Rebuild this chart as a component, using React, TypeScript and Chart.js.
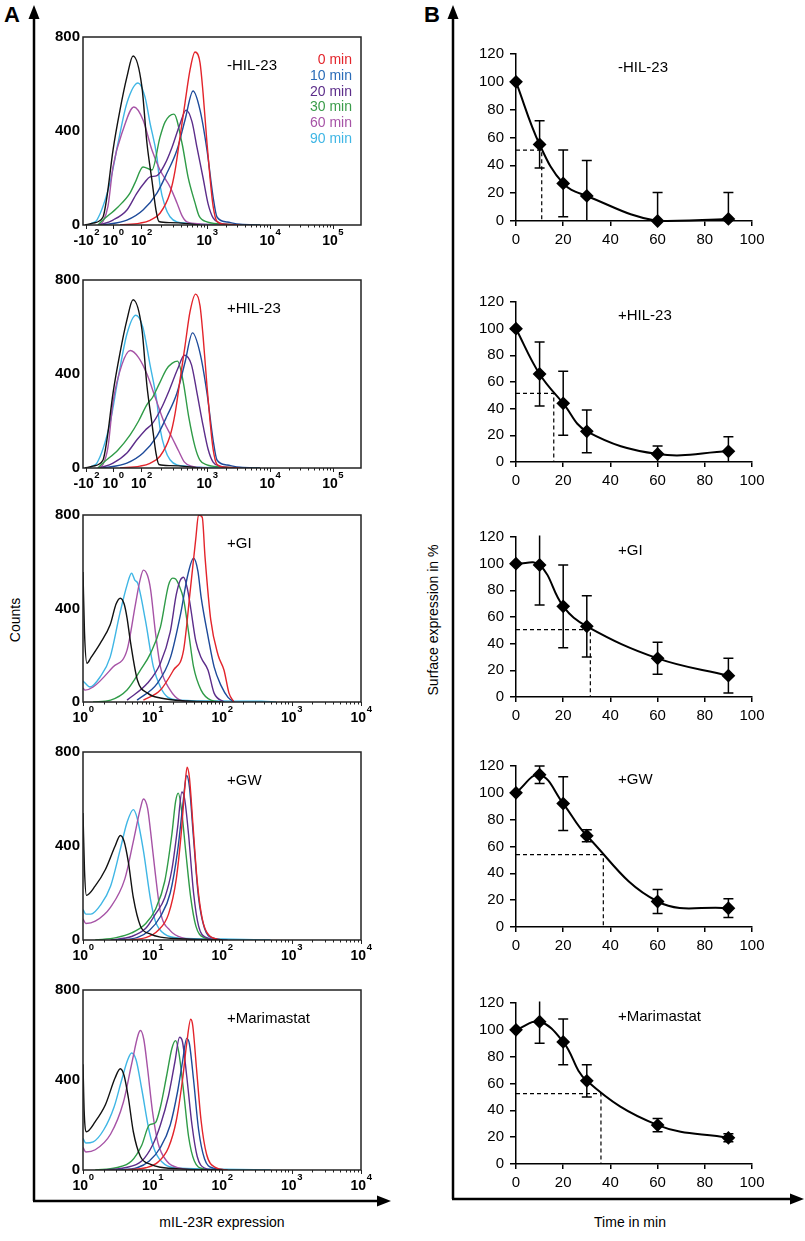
import React, { useEffect, useRef } from "react";
import { Chart, registerables } from "chart.js";

Chart.register(...registerables);

type Pt = [number, number];

const FONT = '"Liberation Sans", Arial, Helvetica, sans-serif';

// ---------------- A: flow cytometry histograms ----------------
// x-axis ticks (display channel for biexponential panels, fluorescence for log panels)
const BIEXP_TICK_POS = [12, 108, 210, 446, 672, 898];
const BIEXP_TICK_BASE = ["-10", "10", "10", "10", "10", "10"];
const BIEXP_TICK_EXP = ["2", "0", "2", "3", "4", "5"];
const LOG_TICK_POS = [1, 10, 100, 1000, 10000];
const LOG_TICK_BASE = ["10", "10", "10", "10", "10"];
const LOG_TICK_EXP = ["0", "1", "2", "3", "4"];
const COUNT_MAX = 800;
const COUNT_STEP = 400;

const TIME_LABELS = ["0 min", "10 min", "20 min", "30 min", "60 min", "90 min"];
const TIME_LABEL_COLORS = ["#e3242b", "#2a6cb8", "#5c2d8a", "#3a9c4a", "#a653a6", "#3fb6e5"];
const CURVE_COLORS = ["#e3242b", "#1d4a9a", "#5c2d8a", "#2f9b47", "#a653a6", "#3fb6e5"];
const CONTROL_COLOR = "#111111";

// -HIL-23 (channel, counts)
const NEG_CTRL: Pt[] = [[7,0],[36,8],[72,34],[86,119],[108,319],[133,489],[158,630],[180,719],[212,587],[230,349],[248,190],[263,60],[273,15],[313,10],[385,5],[421,0]];
const NEG_0: Pt[] = [[133,0],[205,8],[241,20],[277,50],[313,136],[331,230],[349,375],[367,520],[385,660],[403,736],[421,690],[432,560],[446,349],[457,200],[468,80],[482,15],[511,3],[565,0]];
const NEG_10: Pt[] = [[72,0],[158,21],[216,64],[266,136],[302,221],[338,319],[367,447],[396,570],[421,489],[446,319],[468,119],[482,34],[518,13],[565,3],[637,0]];
const NEG_20: Pt[] = [[61,0],[108,21],[158,64],[194,136],[223,183],[241,205],[266,210],[295,260],[320,330],[349,430],[371,489],[392,440],[410,330],[432,200],[450,90],[468,30],[493,8],[547,0]];
const NEG_30: Pt[] = [[54,0],[72,21],[126,77],[169,136],[187,179],[216,247],[248,234],[277,374],[295,438],[327,472],[356,349],[378,204],[403,94],[417,40],[446,13],[493,5],[637,0]];
const NEG_60: Pt[] = [[54,0],[72,15],[90,80],[108,247],[144,404],[183,502],[216,447],[248,319],[277,234],[313,162],[338,94],[356,40],[374,13],[421,5],[529,0]];
const NEG_90: Pt[] = [[25,0],[32,8],[50,21],[97,179],[126,349],[158,519],[198,604],[223,545],[241,434],[266,289],[277,170],[295,80],[313,35],[338,13],[374,8],[421,3],[529,0]];

// +HIL-23
const POS_CTRL: Pt[] = [[7,0],[36,8],[72,34],[86,119],[108,319],[133,489],[158,630],[180,716],[212,590],[230,350],[248,190],[263,60],[273,15],[313,10],[385,5],[421,0]];
const POS_0: Pt[] = [[133,0],[205,8],[241,20],[277,50],[313,136],[331,230],[349,375],[367,520],[385,665],[405,740],[421,690],[432,560],[446,349],[457,200],[468,80],[482,15],[511,3],[565,0]];
const POS_10: Pt[] = [[72,0],[158,21],[216,64],[266,136],[302,221],[338,319],[367,450],[394,575],[421,489],[446,319],[468,119],[482,34],[518,13],[565,3],[637,0]];
const POS_20: Pt[] = [[61,0],[108,21],[158,64],[194,120],[223,160],[250,190],[280,250],[310,330],[340,420],[365,480],[390,440],[410,320],[432,180],[450,80],[468,25],[493,8],[547,0]];
const POS_30: Pt[] = [[54,0],[72,21],[126,77],[169,140],[200,200],[230,270],[250,300],[275,360],[300,420],[320,445],[340,455],[360,370],[380,220],[403,90],[420,35],[446,13],[493,5],[637,0]];
const POS_60: Pt[] = [[54,0],[72,15],[90,90],[108,280],[140,440],[170,500],[200,470],[230,400],[260,300],[290,200],[320,130],[345,70],[365,25],[390,8],[450,0]];
const POS_90: Pt[] = [[25,0],[32,8],[50,21],[97,190],[126,380],[158,570],[190,650],[215,600],[241,440],[266,280],[277,170],[295,80],[313,35],[338,13],[374,8],[421,3],[529,0]];

// +GI (fluorescence, counts)
const GI_CTRL: Pt[] = [[1,556],[1.05,300],[1.14,166],[1.3,190],[1.76,250],[2.46,330],[3,420],[3.44,444],[3.9,420],[4.3,360],[4.8,260],[6.06,94],[8.5,38],[13,17],[32,4],[97,0]];
const GI_0: Pt[] = [[7.4,8],[13,51],[20,136],[28,222],[35,480],[42,700],[46,800],[52,790],[57,620],[69,350],[88,200],[107,136],[126,38],[149,0]];
const GI_10: Pt[] = [[6,8],[11.8,81],[18.2,192],[25.5,380],[32,540],[39,615],[45,560],[50,450],[63,280],[77,150],[97,70],[122,20],[150,0]];
const GI_20: Pt[] = [[4.3,8],[8.5,81],[13,166],[18,300],[22,460],[25,520],[28,534],[32,480],[35.5,400],[42,260],[50,190],[63,136],[77,38],[107,0]];
const GI_30: Pt[] = [[1.4,0],[2.5,8],[4.3,51],[6.7,136],[9.4,209],[13,320],[17,500],[19.5,530],[21.5,526],[24,500],[28,440],[33,300],[39,150],[50,51],[69,8],[100,0]];
const GI_60: Pt[] = [[1,60],[1.07,51],[1.4,64],[2.7,150],[4.3,222],[5.7,420],[6.6,520],[7.4,564],[8.5,540],[9.4,480],[11,300],[13,150],[18,51],[25,8],[36,0]];
const GI_90: Pt[] = [[1,90],[1.07,81],[1.26,64],[1.76,107],[2.46,192],[3.4,380],[4.3,500],[5,551],[5.6,520],[6.1,509],[7.9,350],[10.3,150],[13,64],[16.5,21],[25,8],[100,4],[370,3],[600,0]];

// +GW
const GW_CTRL: Pt[] = [[1,540],[1.05,300],[1.12,190],[1.5,230],[2.1,300],[2.9,400],[3.44,445],[3.9,420],[4.5,330],[5.3,180],[6.7,60],[9.4,25],[13,12],[30,4],[100,0]];
const GW_0: Pt[] = [[4,0],[8,10],[12,40],[17,110],[22,260],[26,460],[29,640],[31.5,735],[34,690],[38,500],[44,250],[52,90],[65,20],[100,0]];
const GW_10: Pt[] = [[3,0],[6,10],[9,40],[13,100],[18,200],[23,380],[27,560],[31,700],[34,650],[39,430],[46,180],[56,50],[75,8],[120,0]];
const GW_20: Pt[] = [[2.5,0],[5,15],[8,50],[11,110],[15,180],[19,300],[23,480],[26.5,630],[29,600],[33,450],[39,200],[46,60],[60,10],[90,0]];
const GW_30: Pt[] = [[1.5,0],[3,10],[5,30],[8,70],[11,130],[15,250],[19,450],[21.5,590],[23.5,625],[26,560],[30,380],[35.5,180],[42,60],[55,10],[80,0]];
const GW_60: Pt[] = [[1,90],[1.1,70],[1.5,80],[2.5,140],[4,260],[5.3,420],[6.7,560],[7.4,600],[8.5,560],[9.4,460],[11,280],[13,120],[18,40],[28,8],[50,0]];
const GW_90: Pt[] = [[1,130],[1.1,110],[1.3,110],[1.8,150],[2.5,230],[3.4,380],[4.3,500],[5.3,555],[6,520],[7.4,380],[9.4,170],[11,80],[15,25],[25,8],[100,4],[500,0]];

// +Marimastat
const MAR_CTRL: Pt[] = [[1,470],[1.04,260],[1.12,170],[1.5,215],[2.1,290],[2.9,410],[3.44,450],[3.9,420],[4.5,320],[5.3,170],[6.7,60],[9.4,25],[13,12],[30,4],[100,0]];
const MAR_0: Pt[] = [[4,0],[8,10],[12,35],[17,100],[22,220],[27,400],[31,560],[35.5,670],[38,640],[43,450],[50,220],[60,70],[80,12],[120,0]];
const MAR_10: Pt[] = [[3,0],[6,10],[9,40],[13,100],[18,200],[23,350],[27,480],[31,585],[34,560],[39,400],[46,180],[56,50],[75,8],[120,0]];
const MAR_20: Pt[] = [[2,0],[4,10],[7,40],[10,110],[13,200],[17,330],[21,480],[24.5,590],[27,570],[31,420],[37,200],[44,60],[55,10],[80,0]];
const MAR_30: Pt[] = [[1.5,0],[3,10],[5,40],[7,110],[9,200],[11,210],[13,280],[16,420],[19,540],[21.5,575],[24,520],[28,350],[33,150],[40,40],[55,5],[80,0]];
const MAR_60: Pt[] = [[1,100],[1.1,80],[1.5,90],[2.5,160],[3.8,300],[5,470],[6.2,600],[6.7,620],[7.5,580],[8.5,450],[10,260],[12,120],[16,40],[25,8],[45,0]];
const MAR_90: Pt[] = [[1,140],[1.1,120],[1.4,125],[2,180],[2.8,280],[3.6,400],[4.4,490],[5,520],[5.8,490],[7,360],[9,170],[11,80],[15,25],[25,8],[100,4],[500,0]];

const HIST_LABELS = ["-HIL-23", "+HIL-23", "+GI", "+GW", "+Marimastat"];

// ---------------- B: surface expression time courses ----------------
const TIMES = [0, 10, 20, 30, 60, 90];
const NEG_EXPR = [100, 55, 27, 18, 0, 1.5];
const NEG_ERR = [0, 17, 24, 25.5, 20.5, 19];
const POS_EXPR = [100, 66, 44, 23, 6, 8];
const POS_ERR = [0, 24, 24, 16, 6, 11];
const GI_EXPR = [100, 99, 68, 53, 29, 16];
const GI_ERR = [0, 30, 31, 23, 12, 13];
const GW_EXPR = [100, 113.5, 92, 68, 19, 14];
const GW_ERR = [0, 6.5, 20, 4.5, 9, 7];
const MAR_EXPR = [100, 106, 91, 62, 29, 19.5];
const MAR_ERR = [0, 16, 17, 12, 5, 3];
const HALF_TIMES = [10.9, 16, 31.5, 37, 36];
const HALF_LEVELS = [51, 51.5, 50.5, 54, 52.5];
const TIME_TICK_STEP = 20;
const EXPR_MAX = 120;
const TIME_MAX = 100;

// ---------------- layout ----------------
const A_LEFT = 83, A_RIGHT = 361, A_CANVAS_LEFT = 30, A_CANVAS_RIGHT = 382;
const A_PAD_TOP = 12, A_PAD_BOTTOM = 34;
const A_PANELS = [
  { top: 37, bottom: 225, kind: "biexp" },
  { top: 280, bottom: 468, kind: "biexp" },
  { top: 515, bottom: 702, kind: "log" },
  { top: 752, bottom: 940, kind: "log" },
  { top: 990, bottom: 1170, kind: "log" },
];
const A_CURVES: Pt[][][] = [
  [NEG_CTRL, NEG_0, NEG_10, NEG_20, NEG_30, NEG_60, NEG_90],
  [POS_CTRL, POS_0, POS_10, POS_20, POS_30, POS_60, POS_90],
  [GI_CTRL, GI_0, GI_10, GI_20, GI_30, GI_60, GI_90],
  [GW_CTRL, GW_0, GW_10, GW_20, GW_30, GW_60, GW_90],
  [MAR_CTRL, MAR_0, MAR_10, MAR_20, MAR_30, MAR_60, MAR_90],
];

const B_LEFT = 516, B_RIGHT = 752, B_CANVAS_LEFT = 458, B_CANVAS_RIGHT = 775;
const B_PAD_TOP = 12, B_XAXIS_H = 30;
const B_PANELS = [
  { top: 51, bottom: 221 },
  { top: 299, bottom: 462 },
  { top: 534, bottom: 697 },
  { top: 763, bottom: 927 },
  { top: 1000, bottom: 1164 },
];
const B_SERIES = [
  [NEG_EXPR, NEG_ERR],
  [POS_EXPR, POS_ERR],
  [GI_EXPR, GI_ERR],
  [GW_EXPR, GW_ERR],
  [MAR_EXPR, MAR_ERR],
];

function minorTicks(kind: string): number[] {
  const out: number[] = [];
  if (kind === "log") {
    for (let d = 1; d < 10000; d *= 10) for (let k = 2; k <= 9; k++) out.push(k * d);
  } else {
    for (let i = 2; i + 1 < BIEXP_TICK_POS.length; i++) {
      const a = BIEXP_TICK_POS[i], b = BIEXP_TICK_POS[i + 1];
      for (let k = 2; k <= 9; k++) out.push(a + Math.log10(k) * (b - a));
    }
  }
  return out;
}

function HistPanel({ idx }: { idx: number }) {
  const ref = useRef<HTMLCanvasElement>(null);
  const p = A_PANELS[idx];
  const w = A_CANVAS_RIGHT - A_CANVAS_LEFT;
  const h = p.bottom - p.top + A_PAD_TOP + A_PAD_BOTTOM;
  useEffect(() => {
    const curves = A_CURVES[idx];
    const colors = [CONTROL_COLOR, ...CURVE_COLORS];
    const datasets = curves.map((c, i) => ({
      data: c.map(([x, y]) => ({ x, y })),
      borderColor: colors[i],
      borderWidth: 1.4,
      pointRadius: 0,
      fill: false,
      cubicInterpolationMode: "monotone",
      tension: 0.4,
    }));
    const isLog = p.kind === "log";
    const major = isLog ? LOG_TICK_POS : BIEXP_TICK_POS;
    const base = isLog ? LOG_TICK_BASE : BIEXP_TICK_BASE;
    const exp = isLog ? LOG_TICK_EXP : BIEXP_TICK_EXP;
    const minor = minorTicks(p.kind);
    const framePlugin = {
      id: "histFrame",
      afterDatasetsDraw(chart: any) {
        const { ctx, chartArea: a } = chart;
        const xs = chart.scales.x;
        ctx.save();
        ctx.strokeStyle = "#222";
        ctx.lineWidth = 1.5;
        ctx.strokeRect(a.left, a.top, a.right - a.left, a.bottom - a.top);
        ctx.lineWidth = 1;
        ctx.beginPath();
        major.forEach((v: number) => {
          const x = Math.round(xs.getPixelForValue(v)) + 0.5;
          ctx.moveTo(x, a.bottom);
          ctx.lineTo(x, a.bottom + 4);
        });
        minor.forEach((v: number) => {
          const x = Math.round(xs.getPixelForValue(v)) + 0.5;
          ctx.moveTo(x, a.bottom);
          ctx.lineTo(x, a.bottom + 2.5);
        });
        ctx.stroke();
        ctx.fillStyle = "#000";
        ctx.textBaseline = "middle";
        ctx.textAlign = "left";
        major.forEach((v: number, i: number) => {
          const x = xs.getPixelForValue(v);
          ctx.font = `bold 14px ${FONT}`;
          const bw = ctx.measureText(base[i]).width;
          ctx.font = `bold 9.5px ${FONT}`;
          const ew = ctx.measureText(exp[i]).width;
          const start = x - (bw + ew) / 2;
          ctx.font = `bold 14px ${FONT}`;
          ctx.fillText(base[i], start, a.bottom + 16);
          ctx.font = `bold 9.5px ${FONT}`;
          ctx.fillText(exp[i], start + bw + 0.5, a.bottom + 7.5);
        });
        ctx.restore();
      },
    };
    const chart = new Chart(ref.current as HTMLCanvasElement, {
      type: "line",
      data: { datasets } as any,
      options: {
        animation: false,
        responsive: false,
        maintainAspectRatio: false,
        events: [],
        layout: { padding: { top: A_PAD_TOP, right: A_CANVAS_RIGHT - A_RIGHT, bottom: A_PAD_BOTTOM, left: 0 } },
        plugins: { legend: { display: false }, tooltip: { enabled: false } },
        scales: {
          x: isLog
            ? { type: "logarithmic", min: LOG_TICK_POS[0], max: LOG_TICK_POS[LOG_TICK_POS.length - 1], display: false }
            : { type: "linear", min: 0, max: 1000, display: false },
          y: {
            type: "linear",
            min: 0,
            max: COUNT_MAX,
            afterFit: (s: any) => { s.width = A_LEFT - A_CANVAS_LEFT; },
            grid: { display: false, drawTicks: false },
            border: { display: false },
            ticks: { stepSize: COUNT_STEP, color: "#000", padding: 3, font: { family: FONT, size: 15, weight: "bold" } },
          },
        },
      } as any,
      plugins: [framePlugin],
    });
    return () => chart.destroy();
  }, [idx]);
  return (
    <canvas
      ref={ref}
      width={w}
      height={h}
      style={{ position: "absolute", left: A_CANVAS_LEFT, top: p.top - A_PAD_TOP, width: w, height: h }}
    />
  );
}

function TimePanel({ idx }: { idx: number }) {
  const ref = useRef<HTMLCanvasElement>(null);
  const p = B_PANELS[idx];
  const w = B_CANVAS_RIGHT - B_CANVAS_LEFT;
  const h = p.bottom - p.top + B_PAD_TOP + B_XAXIS_H;
  useEffect(() => {
    const [vals, errs] = B_SERIES[idx];
    const half = HALF_TIMES[idx];
    const level = HALF_LEVELS[idx];
    const errPlugin = {
      id: "errBars",
      beforeDatasetsDraw(chart: any) {
        const { ctx, chartArea: a } = chart;
        const ys = chart.scales.y;
        const meta = chart.getDatasetMeta(0);
        ctx.save();
        ctx.beginPath();
        ctx.rect(a.left - 10, a.top - 1.5, a.right - a.left + 20, a.bottom - a.top + 1.5);
        ctx.clip();
        ctx.strokeStyle = "#000";
        ctx.lineWidth = 1.5;
        meta.data.forEach((pt: any, i: number) => {
          const e = errs[i];
          if (!e) return;
          const yTop = ys.getPixelForValue(vals[i] + e);
          const yBot = ys.getPixelForValue(vals[i] - e);
          ctx.beginPath();
          ctx.moveTo(pt.x, yTop);
          ctx.lineTo(pt.x, yBot);
          ctx.moveTo(pt.x - 5, yTop);
          ctx.lineTo(pt.x + 5, yTop);
          ctx.moveTo(pt.x - 5, yBot);
          ctx.lineTo(pt.x + 5, yBot);
          ctx.stroke();
        });
        ctx.restore();
      },
    };
    const axisCommon = {
      type: "linear",
      grid: { display: true, drawOnChartArea: false, drawTicks: true, color: "#000", lineWidth: 1.5 },
      border: { display: true, color: "#000", width: 1.5 },
    };
    const chart = new Chart(ref.current as HTMLCanvasElement, {
      type: "line",
      data: {
        datasets: [
          {
            data: TIMES.map((t, i) => ({ x: t, y: vals[i] })),
            borderColor: "#000",
            borderWidth: 2,
            tension: 0.4,
            pointStyle: "rectRot",
            pointRadius: 5.5,
            pointBackgroundColor: "#000",
            pointBorderColor: "#000",
            clip: false,
          },
          {
            data: [{ x: 0, y: level }, { x: half, y: level }, { x: half, y: 0 }],
            borderColor: "#000",
            borderWidth: 1.2,
            borderDash: [4, 3],
            tension: 0,
            pointRadius: 0,
          },
        ],
      } as any,
      options: {
        animation: false,
        responsive: false,
        maintainAspectRatio: false,
        events: [],
        layout: { padding: { top: B_PAD_TOP, right: B_CANVAS_RIGHT - B_RIGHT, bottom: 0, left: 0 } },
        plugins: { legend: { display: false }, tooltip: { enabled: false } },
        scales: {
          x: {
            ...axisCommon,
            min: 0,
            max: TIME_MAX,
            afterFit: (s: any) => { s.height = B_XAXIS_H; },
            grid: { ...axisCommon.grid, tickLength: 5 },
            ticks: { stepSize: TIME_TICK_STEP, color: "#000", padding: 5, maxRotation: 0, font: { family: FONT, size: 15 } },
          },
          y: {
            ...axisCommon,
            min: 0,
            max: EXPR_MAX,
            afterFit: (s: any) => { s.width = B_LEFT - B_CANVAS_LEFT; },
            grid: { ...axisCommon.grid, tickLength: 6 },
            ticks: { stepSize: TIME_TICK_STEP, color: "#000", padding: 6, font: { family: FONT, size: 15 } },
          },
        },
      } as any,
      plugins: [errPlugin],
    });
    return () => chart.destroy();
  }, [idx]);
  return (
    <canvas
      ref={ref}
      width={w}
      height={h}
      style={{ position: "absolute", left: B_CANVAS_LEFT, top: p.top - B_PAD_TOP, width: w, height: h }}
    />
  );
}

const abs = (extra: any) => ({ position: "absolute" as const, whiteSpace: "nowrap" as const, lineHeight: 1, ...extra });

export default function App() {
  return (
    <div style={{ position: "absolute", left: 0, top: 0, width: 805, height: 1241, background: "#fff", overflow: "hidden", fontFamily: FONT, color: "#000" }}>
      <svg width={805} height={1241} style={{ position: "absolute", left: 0, top: 0 }}>
        <line x1={34} y1={1201} x2={34} y2={16} stroke="#000" strokeWidth={2.5} />
        <polygon points="34,5 28.5,19 39.5,19" fill="#000" />
        <line x1={33} y1={1201} x2={378} y2={1201} stroke="#000" strokeWidth={2.5} />
        <polygon points="391,1201 377,1195.5 377,1206.5" fill="#000" />
        <line x1={453} y1={1199} x2={453} y2={16} stroke="#000" strokeWidth={2.5} />
        <polygon points="453,5 447.5,19 458.5,19" fill="#000" />
        <line x1={452} y1={1199} x2={791} y2={1199} stroke="#000" strokeWidth={2.5} />
        <polygon points="804,1199 790,1193.5 790,1204.5" fill="#000" />
      </svg>
      <div style={abs({ left: 4, top: 4, fontSize: 22, fontWeight: "bold" })}>A</div>
      <div style={abs({ left: 424, top: 4, fontSize: 22, fontWeight: "bold" })}>B</div>
      <div style={abs({ left: 15, top: 620, fontSize: 14, transform: "translate(-50%, -50%) rotate(-90deg)" })}>Counts</div>
      <div style={abs({ left: 433, top: 620, fontSize: 14, transform: "translate(-50%, -50%) rotate(-90deg)" })}>Surface expression in %</div>
      <div style={abs({ left: 222, top: 1222, fontSize: 14, transform: "translate(-50%, -50%)" })}>mIL-23R expression</div>
      <div style={abs({ left: 630, top: 1222, fontSize: 14, transform: "translate(-50%, -50%)" })}>Time in min</div>

      {A_PANELS.map((_, i) => <HistPanel key={"a" + i} idx={i} />)}
      {B_PANELS.map((_, i) => <TimePanel key={"b" + i} idx={i} />)}

      {A_PANELS.map((p, i) => (
        <div key={"al" + i} style={abs({ left: 227, top: p.top + 27, fontSize: 15, transform: "translateY(-50%)" })}>{HIST_LABELS[i]}</div>
      ))}
      {B_PANELS.map((p, i) => (
        <div key={"bl" + i} style={abs({ left: 618, top: p.top + 15, fontSize: 15, transform: "translateY(-50%)" })}>{HIST_LABELS[i]}</div>
      ))}
      {TIME_LABELS.map((t, i) => (
        <div key={"lg" + i} style={abs({ right: 805 - 352, top: 59 + i * 15.8, fontSize: 14, color: TIME_LABEL_COLORS[i], transform: "translateY(-50%)" })}>{t}</div>
      ))}
    </div>
  );
}
